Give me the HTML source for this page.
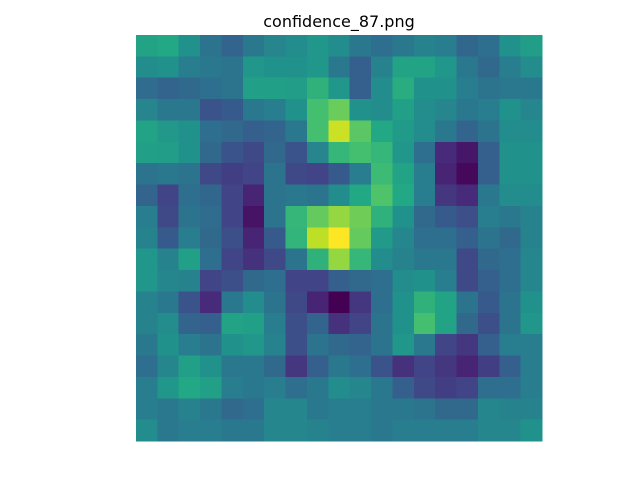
<!DOCTYPE html>
<html>
<head>
<meta charset="utf-8">
<style>
html,body{margin:0;padding:0;background:#fff;}
svg{display:block;}
</style>
</head>
<body>
<svg id="chart" width="640" height="480" viewBox="0 0 640 480" xmlns="http://www.w3.org/2000/svg">
<rect x="0" y="0" width="640" height="480" fill="#fff"/>
<text x="339" y="27" text-anchor="middle" font-family="DejaVu Sans, Liberation Sans, sans-serif" font-size="16" fill="#000">confidence_87.png</text>
<g id="cells" shape-rendering="crispEdges"></g>
</svg>
<script>
const row0 = [0.58,0.6,0.5,0.38,0.32,0.4,0.45,0.48,0.52,0.48,0.4,0.36,0.4,0.44,0.42,0.33,0.36,0.5,0.55];
const row1 = [0.48,0.5,0.42,0.4,0.38,0.52,0.5,0.5,0.52,0.4,0.3,0.44,0.58,0.58,0.52,0.4,0.34,0.42,0.48];
const row2 = [0.35,0.32,0.34,0.36,0.38,0.56,0.56,0.55,0.64,0.52,0.3,0.48,0.62,0.5,0.5,0.42,0.38,0.4,0.4];
const row3 = [0.45,0.4,0.4,0.26,0.28,0.4,0.42,0.5,0.7,0.77,0.5,0.48,0.56,0.48,0.45,0.4,0.42,0.5,0.46];
const row4 = [0.58,0.53,0.5,0.36,0.34,0.3,0.32,0.4,0.7,0.92,0.74,0.6,0.54,0.48,0.4,0.32,0.38,0.48,0.48];
const row5 = [0.56,0.55,0.5,0.34,0.26,0.22,0.34,0.26,0.45,0.66,0.7,0.66,0.52,0.36,0.12,0.06,0.3,0.5,0.5];
const row6 = [0.38,0.4,0.38,0.22,0.18,0.2,0.38,0.22,0.2,0.28,0.42,0.68,0.58,0.42,0.1,0.02,0.3,0.5,0.5];
const row7 = [0.32,0.2,0.36,0.33,0.2,0.1,0.38,0.4,0.38,0.48,0.6,0.72,0.6,0.42,0.16,0.12,0.4,0.48,0.48];
const row8 = [0.42,0.22,0.38,0.35,0.2,0.05,0.38,0.66,0.76,0.84,0.78,0.64,0.5,0.34,0.28,0.24,0.42,0.4,0.44];
const row9 = [0.44,0.28,0.42,0.34,0.24,0.1,0.28,0.65,0.9,1.0,0.76,0.54,0.46,0.36,0.36,0.3,0.38,0.34,0.44];
const row10 = [0.52,0.44,0.56,0.36,0.2,0.14,0.22,0.38,0.64,0.84,0.66,0.48,0.44,0.4,0.4,0.22,0.34,0.36,0.46];
const row11 = [0.52,0.46,0.44,0.2,0.24,0.34,0.36,0.2,0.2,0.3,0.34,0.36,0.48,0.5,0.42,0.22,0.3,0.36,0.46];
const row12 = [0.44,0.4,0.26,0.12,0.4,0.48,0.38,0.22,0.1,0.0,0.16,0.36,0.5,0.64,0.58,0.38,0.28,0.38,0.5];
const row13 = [0.44,0.48,0.32,0.3,0.58,0.56,0.42,0.24,0.32,0.14,0.2,0.38,0.5,0.7,0.58,0.34,0.24,0.38,0.52];
const row14 = [0.4,0.5,0.42,0.38,0.5,0.52,0.44,0.24,0.38,0.34,0.32,0.38,0.52,0.4,0.2,0.16,0.3,0.42,0.42];
const row15 = [0.36,0.46,0.56,0.5,0.4,0.4,0.34,0.16,0.3,0.4,0.36,0.26,0.14,0.2,0.16,0.1,0.18,0.3,0.42];
const row16 = [0.42,0.52,0.6,0.56,0.42,0.4,0.42,0.36,0.4,0.48,0.46,0.4,0.3,0.22,0.18,0.2,0.36,0.36,0.42];
const row17 = [0.42,0.4,0.44,0.4,0.34,0.36,0.46,0.46,0.4,0.42,0.42,0.4,0.4,0.38,0.34,0.34,0.46,0.44,0.44];
const row18 = [0.48,0.4,0.42,0.42,0.4,0.4,0.46,0.46,0.44,0.42,0.42,0.4,0.42,0.42,0.42,0.42,0.46,0.46,0.5];
const grid = [row0,row1,row2,row3,row4,row5,row6,row7,row8,row9,row10,row11,row12,row13,row14,row15,row16,row17,row18];

const stops = ["#440154","#482475","#414487","#355f8d","#2a788e","#21918c","#22a884","#44bf70","#7ad151","#bddf26","#fde725"];
function hex(h){return [1,3,5].map(i=>parseInt(h.substr(i,2),16));}
function viridis(v){
  v=Math.max(0,Math.min(1,v));
  const t=v*10, i=Math.min(9,Math.floor(t)), f=t-i;
  const a=hex(stops[i]), b=hex(stops[i+1]);
  return "rgb("+a.map((c,k)=>Math.round(c+(b[k]-c)*f)).join(",")+")";
}
const x0=136, y0=35, size=406;
const nRows=grid.length, nCols=grid[0].length;
function xScale(c){return x0+c*size/nCols;}
function yScale(r){return y0+r*size/nRows;}
const g=document.getElementById('cells');
const NS="http://www.w3.org/2000/svg";
grid.forEach((row,r)=>{
  row.forEach((v,c)=>{
    const el=document.createElementNS(NS,'rect');
    el.setAttribute('x',xScale(c));
    el.setAttribute('y',yScale(r));
    el.setAttribute('width',xScale(c+1)-xScale(c)+0.5);
    el.setAttribute('height',yScale(r+1)-yScale(r)+0.5);
    el.setAttribute('fill',viridis(v));
    
    
    g.appendChild(el);
  });
});
</script>
</body>
</html>
